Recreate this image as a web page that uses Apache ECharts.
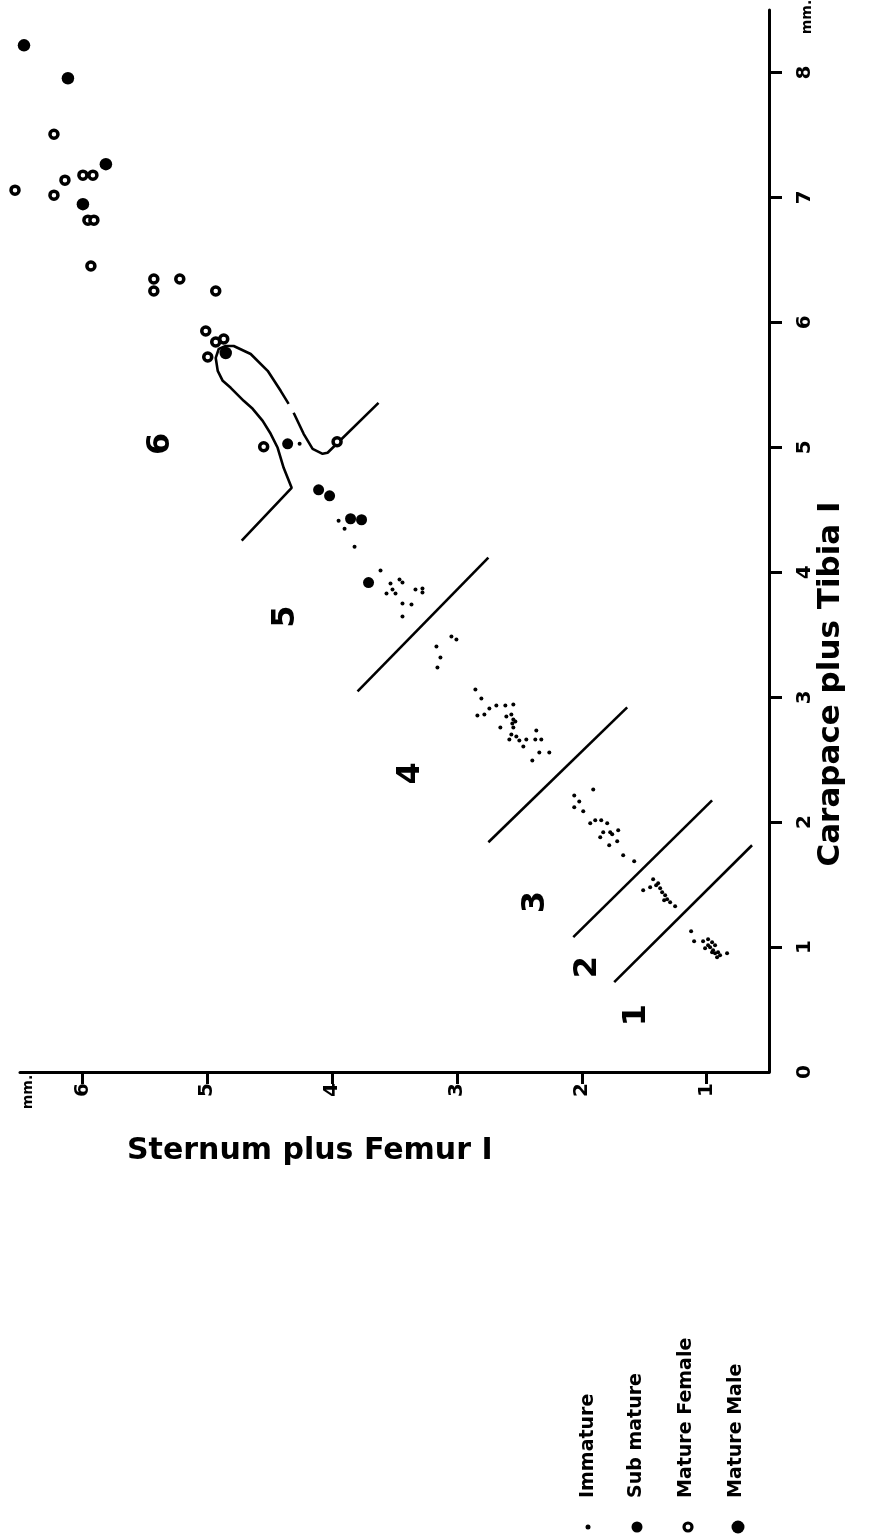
<!DOCTYPE html>
<html><head><meta charset="utf-8">
<script src="https://cdn.jsdelivr.net/npm/echarts@6/dist/echarts.min.js"></script>
<style>html,body{margin:0;padding:0;background:#fff}#c{width:879px;height:1537px}</style>
</head><body><div id="c"></div>
<script>
// Values: [Sternum plus Femur I (mm), Carapace plus Tibia I (mm)]
const immature = [
  [4.26,5.028],[3.948,4.412],[3.9,4.348],[3.82,4.204],[3.612,4.013],[3.532,3.909],[3.46,3.941],[3.436,3.917],
  [3.332,3.861],[3.276,3.869],[3.276,3.837],[3.564,3.829],[3.516,3.861],[3.492,3.829],[3.436,3.749],[3.364,3.741],[3.436,3.645],
  [3.044,3.485],[3.004,3.461],[3.164,3.405],[3.132,3.317],[3.156,3.237],
  [2.852,3.061],[2.804,2.989],[2.74,2.909],[2.684,2.933],[2.612,2.933],[2.548,2.941],[2.836,2.853],[2.78,2.861],
  [2.604,2.845],[2.564,2.861],[2.548,2.821],[2.532,2.805],[2.556,2.789],[2.652,2.757],[2.548,2.757],[2.364,2.733],
  [2.564,2.701],[2.524,2.685],[2.58,2.661],[2.5,2.653],[2.444,2.661],[2.372,2.661],[2.324,2.661],[2.468,2.606],
  [2.34,2.558],[2.26,2.558],[2.396,2.494],
  [1.908,2.262],[2.06,2.214],[2.02,2.166],[2.06,2.118],[1.988,2.086],[1.892,2.014],[1.844,2.014],[1.932,1.99],
  [1.796,1.99],[1.828,1.918],[1.772,1.918],[1.756,1.902],[1.708,1.934],[1.852,1.878],[1.716,1.846],[1.78,1.814],
  [1.668,1.735],[1.58,1.687],
  [1.508,1.455],[1.452,1.479],[1.428,1.543],[1.388,1.511],[1.404,1.495],[1.372,1.471],[1.356,1.439],[1.332,1.415],
  [1.316,1.383],[1.34,1.375],[1.292,1.359],[1.252,1.327],
  [1.124,1.127],[1.1,1.047],[1.028,1.047],[0.988,1.063],[0.956,1.039],[0.972,0.999],[0.948,0.975],[0.932,0.951],
  [0.956,0.959],[0.916,0.919],[0.908,0.959],[0.988,1.015],[0.836,0.951],[1.012,0.991],[0.932,1.015],[0.892,0.935]
];
const subMature = [
  [4.356,5.028],[4.108,4.66],[4.02,4.612],[3.852,4.428],[3.764,4.42],[3.708,3.917]
];
const matureFemale = [
  [6.228,7.506],[6.14,7.138],[5.996,7.178],[5.916,7.178],[6.54,7.058],[6.228,7.018],[5.956,6.818],[5.908,6.818],
  [5.932,6.451],[5.428,6.347],[5.428,6.251],[5.22,6.347],[4.932,6.251],[5.012,5.931],[4.932,5.843],[4.868,5.867],
  [4.996,5.723],[4.548,5.004],[3.96,5.044]
];
const matureMale = [
  [6.468,8.217],[6.116,7.954],[5.812,7.266],[5.996,6.946],[4.852,5.755]
];
const sternumTicks = [1,2,3,4,5,6];
const carapaceTicks = [1,2,3,4,5,6,7,8];
const carapaceLabels = [0,1,2,3,4,5,6,7,8];
const zoneNames = ['1','2','3','4','5','6'];
const zoneLabelAt = [[1.556,0.456],[1.956,0.839],[2.372,1.359],[3.372,2.39],[4.372,3.645],[5.372,5.028]];
const zoneBoundaries = [
  [[1.74,0.719],[0.636,1.815]],
  [[2.068,1.079],[0.956,2.174]],
  [[2.748,1.839],[1.636,2.918]],
  [[3.796,3.046],[2.748,4.117]]
];
const zone6BoundaryA = [
  [4.724,4.253],[4.324,4.676],[4.388,4.836],[4.436,4.996],[4.492,5.108],[4.556,5.212],[4.636,5.308],[4.708,5.372],
  [4.812,5.476],[4.876,5.532],[4.916,5.612],[4.932,5.715],[4.908,5.787],[4.852,5.811],[4.788,5.811],[4.652,5.747],
  [4.516,5.612],[4.412,5.452],[4.348,5.348]
];
const zone6BoundaryB = [
  [4.308,5.276],[4.228,5.108],[4.156,4.988],[4.076,4.948],[4.036,4.956],[3.628,5.356]
];

const FONT = 'DejaVu Sans';
const INK = '#000';
const chart = echarts.init(document.getElementById('c'), null, {renderer: 'canvas'});

const lineSeries = zoneBoundaries.concat([zone6BoundaryA, zone6BoundaryB]).map((seg, i) => ({
  type: 'line', name: 'boundary' + i, data: seg, symbol: 'none', silent: true, clip: false,
  lineStyle: {color: INK, width: 2.6, opacity: 1}, z: 2
}));

const dotStyle = {color: INK, opacity: 1};

const option = {
  backgroundColor: '#fff',
  animation: false,
  grid: {left: 20, right: 110, top: 10, bottom: 465, containLabel: false},
  xAxis: {
    type: 'value', min: 0.5, max: 6.5, inverse: true, position: 'bottom',
    axisLine: {show: true, onZero: false, lineStyle: {color: INK, width: 3}},
    axisTick: {show: true, inside: false, length: 12, customValues: sternumTicks, lineStyle: {color: INK, width: 3}},
    axisLabel: {show: true, rotate: 90, margin: 11, customValues: sternumTicks, color: INK,
      fontFamily: FONT, fontWeight: 'bold', fontSize: 20},
    splitLine: {show: false}
  },
  yAxis: {
    type: 'value', min: 0, max: 8.5, position: 'right',
    axisLine: {show: true, onZero: false, lineStyle: {color: INK, width: 3}},
    axisTick: {show: true, inside: false, length: 13, customValues: carapaceTicks, lineStyle: {color: INK, width: 3}},
    axisLabel: {show: true, rotate: 90, margin: 26, customValues: carapaceLabels, color: INK,
      fontFamily: FONT, fontWeight: 'bold', fontSize: 20},
    splitLine: {show: false}
  },
  series: lineSeries.concat([
    {type: 'scatter', name: 'zones', silent: true, clip: false, symbolSize: 0,
     itemStyle: {opacity: 1},
     data: zoneLabelAt.map((p, i) => ({name: zoneNames[i], value: p})),
     label: {show: true, position: 'inside', formatter: '{b}', rotate: 90, color: INK, opacity: 1,
       fontFamily: FONT, fontWeight: 'bold', fontSize: 32}},
    {type: 'scatter', name: 'Immature', data: immature, symbol: 'circle', symbolSize: 4, clip: false,
     itemStyle: dotStyle, z: 3},
    {type: 'scatter', name: 'Sub mature', data: subMature, symbol: 'circle', symbolSize: 11, clip: false,
     itemStyle: dotStyle, z: 3},
    {type: 'scatter', name: 'Mature Female', data: matureFemale, symbol: 'circle', symbolSize: 8, clip: false,
     itemStyle: {color: '#fff', borderColor: INK, borderWidth: 3.5, opacity: 1}, z: 3},
    {type: 'scatter', name: 'Mature Male', data: matureMale, symbol: 'circle', symbolSize: 12.5, clip: false,
     itemStyle: dotStyle, z: 3}
  ]),
  graphic: [
    {type: 'text', x: 831, y: 684, rotation: Math.PI / 2,
     style: {text: 'Carapace plus Tibia I', align: 'center', verticalAlign: 'middle', fill: INK,
       font: 'bold 31px "DejaVu Sans"'}},
    {type: 'text', x: 127, y: 1151,
     style: {text: 'Sternum plus Femur I', align: 'left', verticalAlign: 'middle', fill: INK,
       font: 'bold 30px "DejaVu Sans"'}},
    {type: 'text', x: 807, y: 17, rotation: Math.PI / 2,
     style: {text: 'mm.', align: 'center', verticalAlign: 'middle', fill: INK, font: 'bold 14px "DejaVu Sans"'}},
    {type: 'text', x: 28, y: 1092, rotation: Math.PI / 2,
     style: {text: 'mm.', align: 'center', verticalAlign: 'middle', fill: INK, font: 'bold 14px "DejaVu Sans"'}},
    // legend
    {type: 'circle', shape: {cx: 588, cy: 1527, r: 2.5}, style: {fill: INK}},
    {type: 'circle', shape: {cx: 637, cy: 1527, r: 5.5}, style: {fill: INK}},
    {type: 'circle', shape: {cx: 688, cy: 1527, r: 4}, style: {fill: '#fff', stroke: INK, lineWidth: 3.2}},
    {type: 'circle', shape: {cx: 738, cy: 1527, r: 6.5}, style: {fill: INK}},
    {type: 'text', x: 588, y: 1498, rotation: Math.PI / 2,
     style: {text: 'Immature', align: 'left', verticalAlign: 'middle', fill: INK, font: 'bold 19px "DejaVu Sans"'}},
    {type: 'text', x: 636, y: 1498, rotation: Math.PI / 2,
     style: {text: 'Sub mature', align: 'left', verticalAlign: 'middle', fill: INK, font: 'bold 19px "DejaVu Sans"'}},
    {type: 'text', x: 686, y: 1498, rotation: Math.PI / 2,
     style: {text: 'Mature Female', align: 'left', verticalAlign: 'middle', fill: INK, font: 'bold 19px "DejaVu Sans"'}},
    {type: 'text', x: 736, y: 1498, rotation: Math.PI / 2,
     style: {text: 'Mature Male', align: 'left', verticalAlign: 'middle', fill: INK, font: 'bold 19px "DejaVu Sans"'}}
  ]
};
chart.setOption(option);
</script>
</body></html>
